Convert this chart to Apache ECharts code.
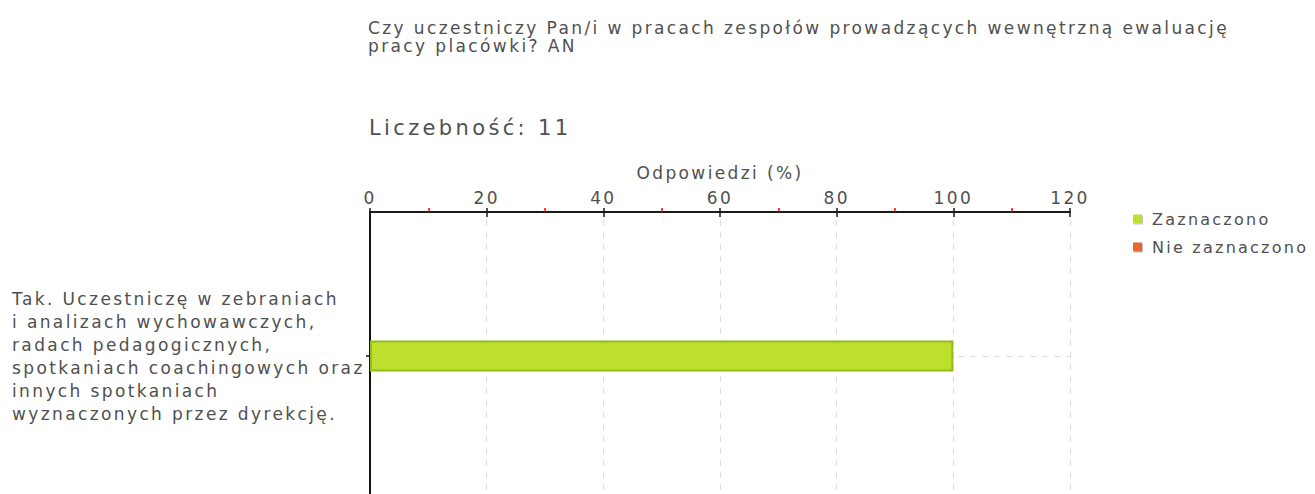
<!DOCTYPE html>
<html>
<head>
<meta charset="utf-8">
<script src="https://cdn.jsdelivr.net/npm/echarts@6/dist/echarts.min.js"></script>
<style>
  html, body { margin: 0; padding: 0; background: #fff; }
  #chart { width: 1315px; height: 494px; }
  /* wide tracking of the survey-report typography */
  #chart text { letter-spacing: 0.14em; }
  #chart text[style*="21px"] { letter-spacing: 0.16em; }
</style>
</head>
<body>
<div id="chart"></div>
<script>
// Question and sample size
const questionLines = [
  'Czy uczestniczy Pan/i w pracach zespołów prowadzących wewnętrzną ewaluację',
  'pracy placówki? AN'
];
const sampleLabel = 'Liczebność: 11';

// Answer category (wrapped the way it is printed)
const categoryLines = [
  'Tak. Uczestniczę w zebraniach',
  'i analizach wychowawczych,',
  'radach pedagogicznych,',
  'spotkaniach coachingowych oraz',
  'innych spotkaniach',
  'wyznaczonych przez dyrekcję.'
];
const categories = [categoryLines.join('\n')];

// Series
const seriesNames = ['Zaznaczono', 'Nie zaznaczono'];
const checkedValues = [100];
const uncheckedValues = [0];

// Percentage axis
const axisName = 'Odpowiedzi (%)';
const axisMin = 0;
const axisMax = 120;
const axisStep = 20;

const FONT = 'DejaVu Sans';
const TEXT = '#505050';

const chart = echarts.init(document.getElementById('chart'), null, { renderer: 'svg' });

chart.setOption({
  backgroundColor: '#ffffff',
  animation: false,
  textStyle: { fontFamily: FONT },
  title: [
    {
      text: questionLines.join('\n'),
      left: 368,
      top: 19,
      padding: 0,
      textStyle: { fontFamily: FONT, fontSize: 17, fontWeight: 'normal', color: TEXT, lineHeight: 18 }
    },
    {
      text: sampleLabel,
      left: 369,
      top: 117,
      padding: 0,
      textStyle: { fontFamily: FONT, fontSize: 21, fontWeight: 'normal', color: TEXT }
    }
  ],
  legend: {
    data: seriesNames,
    orient: 'vertical',
    left: 1133,
    top: 211,
    padding: 0,
    icon: 'rect',
    itemWidth: 9,
    itemHeight: 9,
    itemGap: 12,
    selectedMode: false,
    itemStyle: {
      borderWidth: 0,
      shadowColor: 'rgba(0,0,0,0.25)',
      shadowBlur: 1,
      shadowOffsetX: 1,
      shadowOffsetY: 1
    },
    textStyle: { fontFamily: FONT, fontSize: 16, color: TEXT, padding: [0, 0, 0, 5] }
  },
  grid: { left: 370, top: 212, width: 700, height: 288, containLabel: false, outerBoundsMode: 'none' },
  xAxis: [
    {
      type: 'value',
      position: 'top',
      min: axisMin,
      max: axisMax,
      interval: axisStep,
      name: axisName,
      nameLocation: 'middle',
      nameGap: 31,
      nameTextStyle: { fontFamily: FONT, fontSize: 17, color: TEXT },
      axisLine: { show: true, lineStyle: { color: '#1a1a1a', width: 2 } },
      axisTick: { show: true, length: 4, lineStyle: { color: '#1a1a1a', width: 1.5 } },
      minorTick: { show: true, splitNumber: 2, length: 4, lineStyle: { color: '#ff0000', width: 1.5 } },
      axisLabel: { fontFamily: FONT, fontSize: 17, color: TEXT, margin: 6 },
      splitLine: { show: true, lineStyle: { color: '#dddddd', width: 1, type: [6, 6], dashOffset: 4 } }
    },
    {
      // ticks continuing below the axis line
      type: 'value',
      position: 'top',
      min: axisMin,
      max: axisMax,
      interval: axisStep,
      axisLine: { show: false },
      axisTick: { show: true, inside: true, length: 5, lineStyle: { color: '#1a1a1a', width: 1.5 } },
      axisLabel: { show: false },
      splitLine: { show: false }
    }
  ],
  yAxis: {
    type: 'category',
    data: categories,
    axisLine: { show: true, lineStyle: { color: '#111111', width: 2 } },
    axisTick: { show: true, alignWithLabel: true, length: 4, lineStyle: { color: '#111111', width: 1.5 } },
    axisLabel: {
      align: 'left',
      margin: 358,
      fontFamily: FONT,
      fontSize: 17,
      lineHeight: 23,
      color: TEXT
    },
    splitLine: { show: false }
  },
  series: [
    {
      name: seriesNames[0],
      type: 'bar',
      stack: 'answers',
      xAxisIndex: 0,
      barWidth: 31,
      data: checkedValues,
      itemStyle: { color: '#bde02e', borderColor: '#97ba1c', borderWidth: 2 },
      markLine: {
        silent: true,
        z: 1,
        symbol: 'none',
        label: { show: false },
        lineStyle: { color: '#dddddd', width: 1, type: [6, 6] },
        data: [{ yAxis: 0 }]
      }
    },
    {
      name: seriesNames[1],
      type: 'bar',
      stack: 'answers',
      xAxisIndex: 0,
      barWidth: 31,
      data: uncheckedValues,
      itemStyle: { color: '#e4672d' }
    }
  ]
});
</script>
</body>
</html>
